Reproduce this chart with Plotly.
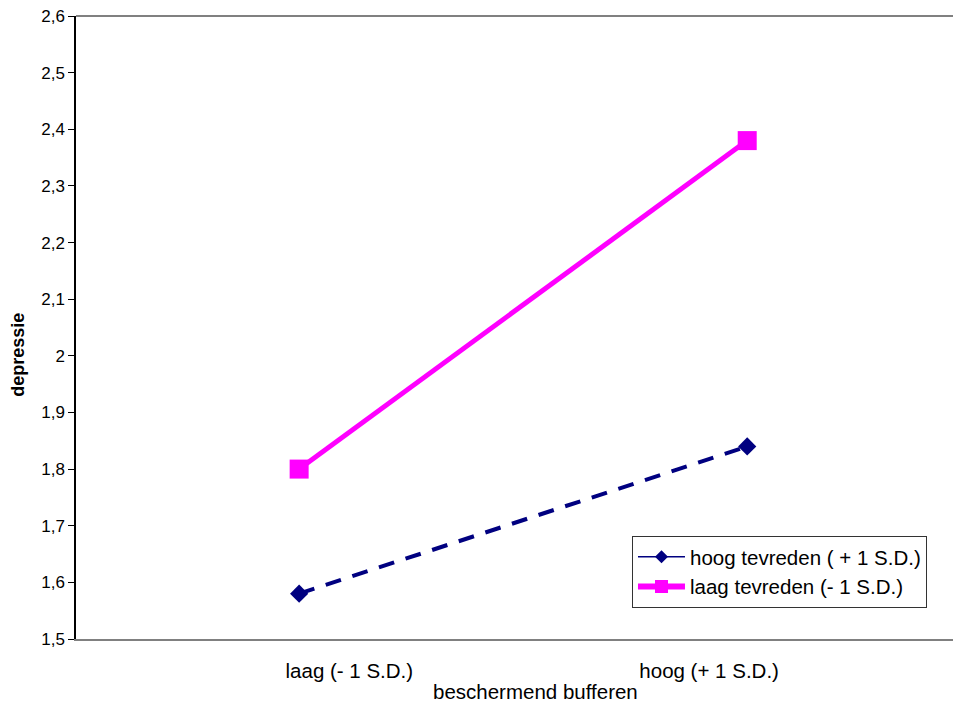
import plotly.graph_objects as go

categories = ["laag (- 1 S.D.)", "hoog (+ 1 S.D.)"]
hoog_tevreden = [1.58, 1.84]
laag_tevreden = [1.80, 2.38]
series_names = ["hoog tevreden ( + 1 S.D.)", "laag tevreden (- 1 S.D.)"]
y_tickvals = [1.5, 1.6, 1.7, 1.8, 1.9, 2.0, 2.1, 2.2, 2.3, 2.4, 2.5, 2.6]
y_ticktext = ["1,5", "1,6", "1,7", "1,8", "1,9", "2", "2,1", "2,2", "2,3", "2,4", "2,5", "2,6"]

NAVY = "#000080"
PINK = "#FF00FF"
FONT = "Liberation Sans, Arial, sans-serif"

xi = list(range(len(categories)))
# category labels in the original sit slightly inward of the data points
label_shift = [0.112, -0.085]
label_pos = [i + s for i, s in zip(xi, label_shift)]

fig = go.Figure()
fig.add_trace(go.Scatter(x=xi, y=hoog_tevreden, mode="lines+markers",
                         line=dict(color=NAVY, width=4, dash="16px,12px"),
                         marker=dict(symbol="diamond", size=14, color=NAVY),
                         showlegend=False))
fig.add_trace(go.Scatter(x=xi, y=laag_tevreden, mode="lines+markers",
                         line=dict(color=PINK, width=5),
                         marker=dict(symbol="square", size=19, color=PINK),
                         showlegend=False))
# legend entries
fig.add_trace(go.Scatter(x=[None], y=[None], mode="lines+markers", name=series_names[0],
                         line=dict(color=NAVY, width=1.5),
                         marker=dict(symbol="diamond", size=10, color=NAVY)))
fig.add_trace(go.Scatter(x=[None], y=[None], mode="lines+markers", name=series_names[1],
                         line=dict(color=PINK, width=6),
                         marker=dict(symbol="square", size=13, color=PINK)))

fig.update_layout(
    width=961, height=706,
    margin=dict(l=68, r=0, t=8, b=75),
    plot_bgcolor="white", paper_bgcolor="white",
    font=dict(family=FONT, size=20.5, color="black"),
    showlegend=True,
    legend=dict(x=0.6226, y=0.1653, xanchor="left", yanchor="top",
                bordercolor="#333333", borderwidth=1, bgcolor="white",
                font=dict(size=20.5), itemwidth=47, tracegroupgap=0),
    xaxis=dict(range=[-0.498, 1.495], tickvals=label_pos, ticktext=categories,
               showgrid=False, zeroline=False, showline=True, linecolor="#808080",
               linewidth=2, ticks="", ticklabelstandoff=12,
               tickfont=dict(size=20.5)),
    yaxis=dict(range=[1.5, 2.6], tickvals=y_tickvals, ticktext=y_ticktext,
               showgrid=False, zeroline=False, showline=True, linecolor="black",
               linewidth=1.5, ticks="outside", ticklen=6, tickcolor="black",
               ticklabeloverflow="allow", tickfont=dict(size=17)),
    shapes=[dict(type="line", xref="paper", yref="paper", x0=0, x1=1, y0=1, y1=1,
                 line=dict(color="#808080", width=2))],
    annotations=[
        dict(text="<b>depressie</b>", xref="paper", yref="paper", x=-0.065, y=0.456,
             textangle=-90, showarrow=False, font=dict(size=18), xanchor="center", yanchor="middle"),
        dict(text="beschermend bufferen", xref="paper", yref="paper", x=0.515, y=-0.0835,
             showarrow=False, font=dict(size=20.5), xanchor="center", yanchor="middle"),
    ],
)

fig.write_html("out.html")
